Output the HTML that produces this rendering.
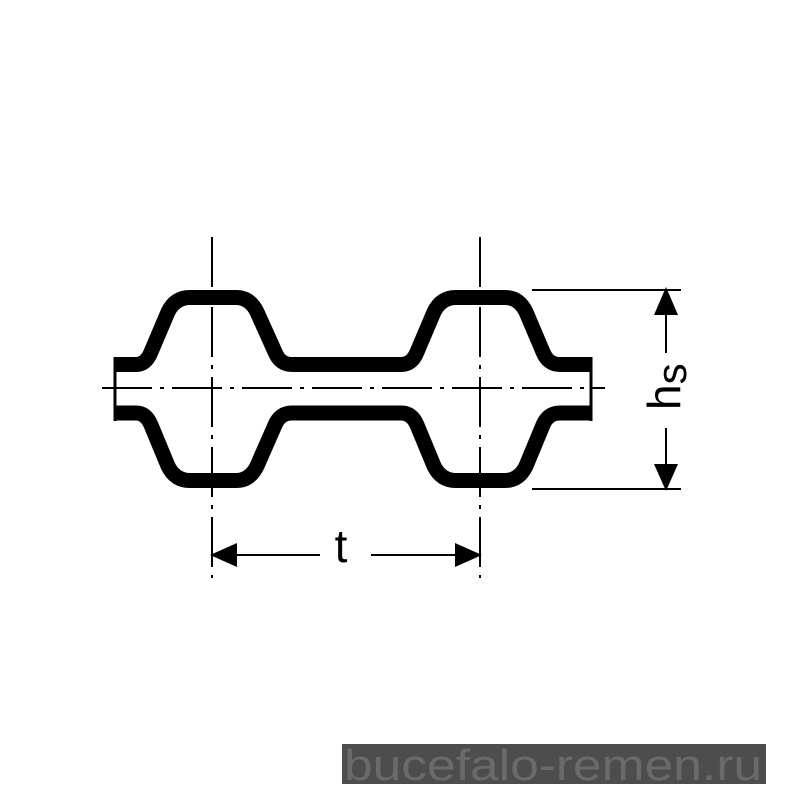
<!DOCTYPE html>
<html><head><meta charset="utf-8"><style>html,body{margin:0;padding:0;background:#fff}svg{display:block}</style></head><body>
<svg width="800" height="800" viewBox="0 0 800 800" xmlns="http://www.w3.org/2000/svg">
<rect width="800" height="800" fill="#fff"/>
<g fill="none" stroke="#000" stroke-width="15" stroke-linejoin="round">
<path d="M115 364.5 H136 Q146 364.5 151 352 L168 312 Q175 297.5 190 297.5 H236 Q250 297.5 257 312 L275 352 Q280 364.5 292 364.5 H401 Q412 364.5 417 352 L434 312 Q441 297.5 456 297.5 H505 Q519 297.5 526 312 L543 352 Q548 364.5 560 364.5 H592"/>
<path d="M115 413 H136 Q146 413 151 425 L168 466 Q175 480.5 190 480.5 H236 Q250 480.5 257 466 L275 425 Q280 413 292 413 H401 Q412 413 417 425 L434 466 Q441 480.5 456 480.5 H505 Q519 480.5 526 466 L543 425 Q548 413 560 413 H592"/>
</g>
<g stroke="#000" stroke-width="3">
<line x1="115" y1="357" x2="115" y2="421"/>
<line x1="591" y1="357" x2="591" y2="421"/>
</g>
<g stroke="#000" stroke-width="2" fill="none">
<line x1="102" y1="388" x2="605" y2="388" stroke-dasharray="50,8,4,8"/>
<line x1="212" y1="237" x2="212" y2="578" stroke-dasharray="50,8,4,8"/>
<line x1="480" y1="237" x2="480" y2="578" stroke-dasharray="50,8,4,8"/>
<line x1="532" y1="290" x2="681" y2="290"/>
<line x1="532" y1="489" x2="681" y2="489"/>
<line x1="666" y1="310" x2="666" y2="353"/>
<line x1="666" y1="428" x2="666" y2="470"/>
<line x1="235" y1="555" x2="320" y2="555"/>
<line x1="371" y1="555" x2="455" y2="555"/>
</g>
<g fill="#000">
<polygon points="666,287 654,315 678,315"/>
<polygon points="666,491 654,464 678,464"/>
<polygon points="210,555 237,543 237,567"/>
<polygon points="482,555 455,543 455,567"/>
</g>
<text x="341" y="562" font-family="Liberation Sans, sans-serif" font-size="46" text-anchor="middle" fill="#000">t</text>
<text transform="translate(680,410) rotate(-90)" font-family="Liberation Sans, sans-serif" font-size="46" fill="#000">h<tspan font-size="42" dy="6">s</tspan></text>
<rect x="342" y="744" width="424" height="40" fill="#4d4d4d"/>
<text x="344" y="780" font-family="Liberation Sans, sans-serif" font-size="44" fill="#6a6a6a" textLength="418" lengthAdjust="spacingAndGlyphs">bucefalo-remen.ru</text>
</svg>
</body></html>
